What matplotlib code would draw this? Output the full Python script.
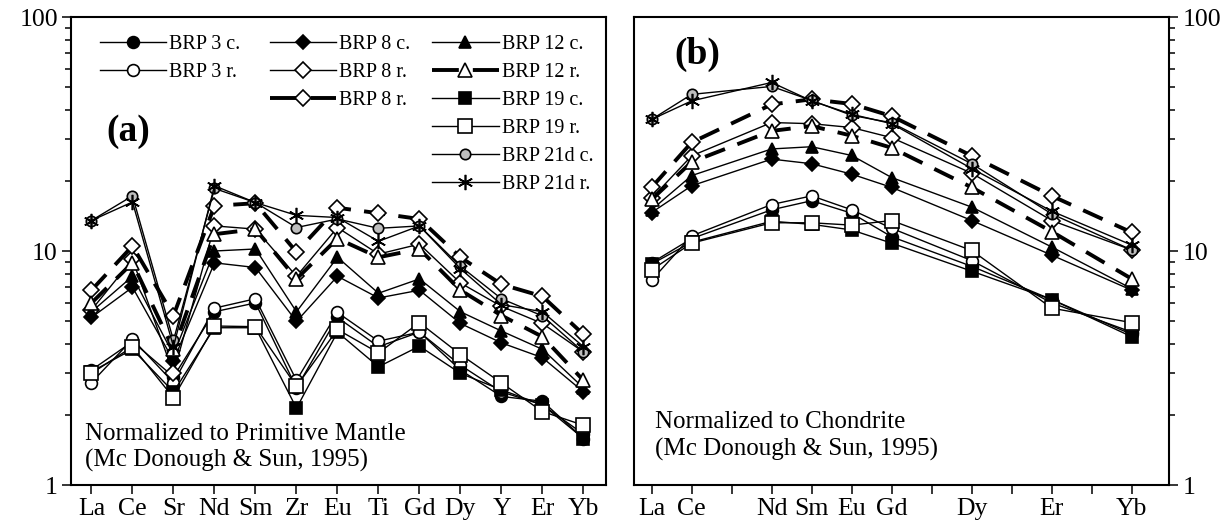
import matplotlib
matplotlib.use("Agg")
import matplotlib.pyplot as plt
from matplotlib.lines import Line2D
from matplotlib.ticker import LogLocator, NullFormatter, FixedLocator, FixedFormatter

plt.rcParams['font.family'] = ['Liberation Serif', 'DejaVu Serif']

# ---------------- data ----------------
pm_elements = ['La', 'Ce', 'Sr', 'Nd', 'Sm', 'Zr', 'Eu', 'Ti', 'Gd', 'Dy', 'Y', 'Er', 'Yb']
ci_ticklabels = ['La', 'Ce', '', 'Nd', 'Sm', 'Eu', 'Gd', '', 'Dy', '', 'Er', '', 'Yb']
ci_elements = ['La', 'Ce', 'Nd', 'Sm', 'Eu', 'Gd', 'Dy', 'Er', 'Yb']

labels = ['BRP 3 c.', 'BRP 3 r.', 'BRP 8 c.', 'BRP 8 r.', 'BRP 8 r.', 'BRP 12 c.',
          'BRP 12 r.', 'BRP 19 c.', 'BRP 19 r.', 'BRP 21d c.', 'BRP 21d r.']

# Primitive-mantle normalized
brp3c_pm = [3.1, 4.1, 2.9, 5.5, 6.0, 2.6, 5.2, 3.9, 4.5, 3.1, 2.39, 2.28, 1.58]
brp3r_pm = [2.74, 4.2, 2.74, 5.7, 6.25, 2.8, 5.46, 4.12, 4.5, 3.25, 2.5, 2.2, 1.65]
brp8c_pm = [5.2, 7.0, 3.4, 8.9, 8.5, 5.0, 7.8, 6.3, 6.8, 4.9, 4.05, 3.5, 2.5]
brp8r_pm = [5.6, 9.2, 3.0, 12.8, 12.4, 7.8, 12.6, 9.7, 10.7, 7.3, 5.8, 4.9, 3.7]
brp8r2_pm = [6.8, 10.5, 5.3, 15.6, 16.0, 9.9, 15.3, 14.5, 13.7, 9.4, 7.2, 6.4, 4.4]
brp12c_pm = [5.5, 7.8, 3.6, 10.0, 10.2, 5.5, 9.4, 6.6, 7.6, 5.5, 4.55, 3.8, 2.6]
brp12r_pm = [6.0, 8.9, 3.8, 11.8, 12.4, 7.6, 11.3, 9.4, 10.2, 6.8, 5.3, 4.3, 2.8]
brp19c_pm = [3.05, 3.8, 2.5, 4.7, 4.7, 2.13, 4.5, 3.2, 3.92, 3.0, 2.55, 2.2, 1.58]
brp19r_pm = [3.0, 3.9, 2.36, 4.78, 4.75, 2.64, 4.62, 3.67, 4.94, 3.61, 2.73, 2.06, 1.8]
brp21dc_pm = [13.5, 17.2, 4.15, 18.5, 16.1, 12.6, 13.7, 12.5, 12.8, 8.6, 6.25, 5.28, 3.7]
brp21dr_pm = [13.5, 16.2, 3.9, 19.0, 16.1, 14.2, 13.9, 11.0, 12.8, 8.4, 5.9, 5.5, 3.9]

# Chondrite normalized
brp3c_ci = [8.9, 11.3, 15.0, 16.4, 14.5, 11.5, 8.6, 6.2, 4.4]
brp3r_ci = [7.5, 11.6, 15.8, 17.2, 15.0, 12.5, 9.1, 6.0, 4.5]
brp8c_ci = [14.6, 19.0, 24.7, 23.6, 21.3, 18.7, 13.5, 9.6, 6.8]
brp8r_ci = [16.8, 25.5, 35.4, 35.0, 33.7, 30.5, 21.5, 13.5, 10.1]
brp8r2_ci = [18.7, 29.1, 42.3, 44.5, 42.5, 37.7, 25.5, 17.2, 12.0]
brp12c_ci = [15.0, 21.0, 27.3, 27.9, 25.6, 20.6, 15.4, 10.4, 6.9]
brp12r_ci = [16.6, 24.0, 32.6, 34.2, 31.1, 27.6, 18.7, 12.1, 7.6]
brp19c_ci = [8.8, 10.9, 13.4, 13.0, 12.3, 10.8, 8.2, 6.2, 4.3]
brp19r_ci = [8.3, 10.8, 13.2, 13.2, 12.9, 13.5, 10.05, 5.7, 4.94]
brp21dc_ci = [36.5, 46.7, 50.5, 44.0, 38.0, 35.3, 23.6, 14.4, 10.1]
brp21dr_ci = [36.5, 43.8, 52.5, 43.8, 38.4, 35.0, 22.5, 14.8, 10.6]

pm_series = [brp3c_pm, brp3r_pm, brp8c_pm, brp8r_pm, brp8r2_pm, brp12c_pm,
             brp12r_pm, brp19c_pm, brp19r_pm, brp21dc_pm, brp21dr_pm]
ci_series = [brp3c_ci, brp3r_ci, brp8c_ci, brp8r_ci, brp8r2_ci, brp12c_ci,
             brp12r_ci, brp19c_ci, brp19r_ci, brp21dc_ci, brp21dr_ci]

# ---------------- styles ----------------
thin = 1.0
thick = 2.8
dash = (0, (5.5, 3.4))
leg_dash = (0, (6.9, 3.6))
ast = (6, 2, 0)
styles = [
    dict(marker='o', mfc='black', ms=8.5, lw=thin, ls='-'),
    dict(marker='o', mfc='white', ms=8.5, lw=thin, ls='-'),
    dict(marker='D', mfc='black', ms=7.5, lw=thin, ls='-'),
    dict(marker='D', mfc='white', ms=8.5, lw=thin, ls='-'),
    dict(marker='D', mfc='white', ms=8.5, lw=thick, ls=dash),
    dict(marker='^', mfc='black', ms=8.5, lw=thin, ls='-'),
    dict(marker='^', mfc='white', ms=9.5, lw=thick, ls=dash),
    dict(marker='s', mfc='black', ms=8.5, lw=thin, ls='-'),
    dict(marker='s', mfc='white', ms=9.5, lw=thin, ls='-'),
    dict(marker='o', mfc='#bdbdbd', ms=7.5, lw=thin, ls='-'),
    dict(marker=ast, mfc='black', ms=11, lw=thin, ls='-'),
]

W, H = 1230, 529
fig = plt.figure(figsize=(W / 100, H / 100), dpi=100)

ax1 = fig.add_axes([71 / W, 1 - 485 / H, 535 / W, 468 / H])
ax2 = fig.add_axes([634 / W, 1 - 485 / H, 535 / W, 468 / H])

pm_x = list(range(len(pm_elements)))
ci_pos = [0, 1, 3, 4, 5, 6, 8, 10, 12]

for vals, st, lab in zip(pm_series, styles, labels):
    ax1.plot(pm_x, vals, color='black', marker=st['marker'], mfc=st['mfc'],
             mec='black', mew=1.2, ms=st['ms'], lw=st['lw'], ls=st['ls'], label=lab)

for vals, st in zip(ci_series, styles):
    ax2.plot(ci_pos, vals, color='black', marker=st['marker'], mfc=st['mfc'],
             mec='black', mew=1.2, ms=st['ms'], lw=st['lw'], ls=st['ls'])

# legend handles (dashed entries drawn as in the original key)
handles = []
for st, lab in zip(styles, labels):
    ls = leg_dash if st['ls'] == dash else '-'
    handles.append(Line2D([], [], color='black', marker=st['marker'], mfc=st['mfc'],
                          mec='black', mew=1.2, ms=st['ms'], lw=st['lw'], ls=ls, label=lab))

for ax in (ax1, ax2):
    ax.set_yscale('log')
    ax.set_ylim(1, 100)
    ax.yaxis.set_major_locator(FixedLocator([1, 10, 100]))
    ax.yaxis.set_major_formatter(FixedFormatter(['1', '10', '100']))
    ax.yaxis.set_minor_locator(LogLocator(base=10, subs=range(2, 10)))
    ax.yaxis.set_minor_formatter(NullFormatter())
    for s in ax.spines.values():
        s.set_linewidth(1.5)
    ax.tick_params(axis='both', which='major', direction='out', length=6.5, width=1.1,
                   labelsize=18.5, pad=3)
    ax.tick_params(axis='y', which='minor', direction='out', length=4, width=1.1)

ax1.set_xlim(-0.5, 12.55)
ax1.set_xticks(pm_x)
ax1.set_xticklabels(pm_elements)

ax2.set_xlim(-0.44, 12.93)
ax2.set_xticks(range(13))
ax2.set_xticklabels(ci_ticklabels)
ax2.yaxis.tick_right()
ax2.yaxis.set_label_position('right')
ax2.tick_params(axis='y', which='both', left=False, right=True, labelright=True, labelleft=False)

# panel labels
ax1.text(0.1065, 0.756, '(a)', transform=ax1.transAxes, fontsize=27, fontweight='bold',
         ha='center', va='center')
ax2.text(0.118, 0.92, '(b)', transform=ax2.transAxes, fontsize=27, fontweight='bold',
         ha='center', va='center')

ax1.text(0.026, 0.080, 'Normalized to Primitive Mantle\n(Mc Donough & Sun, 1995)',
         transform=ax1.transAxes, fontsize=18, ha='left', va='center', linespacing=1.25)
ax2.text(0.04, 0.105, 'Normalized to Chondrite\n(Mc Donough & Sun, 1995)',
         transform=ax2.transAxes, fontsize=18, ha='left', va='center', linespacing=1.3)

# legends (three columns)
leg_kw = dict(frameon=False, fontsize=14.5, numpoints=1, handlelength=3.3,
              handletextpad=0.15, labelspacing=0.44, borderpad=0, borderaxespad=0,
              loc='upper left')
groups = [([0, 1], 0.054), ([2, 3, 4], 0.372), ([5, 6, 7, 8, 9, 10], 0.675)]
legs = []
for idx, xa in groups:
    lg = ax1.legend(handles=[handles[i] for i in idx], bbox_to_anchor=(xa, 0.962), **leg_kw)
    legs.append(lg)
for lg in legs[:-1]:
    ax1.add_artist(lg)

fig.savefig('out.png', dpi=100)
